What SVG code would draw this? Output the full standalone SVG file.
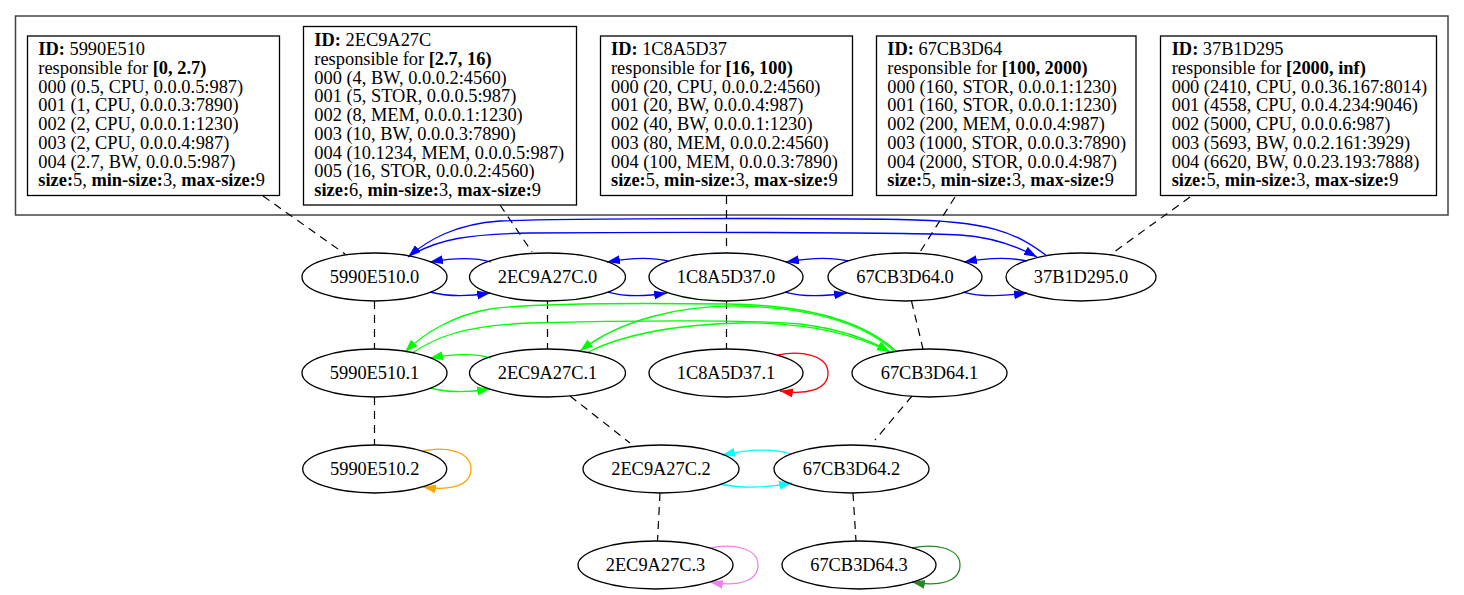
<svg xmlns="http://www.w3.org/2000/svg" width="1464" height="595" viewBox="0 0 1464 595">
<style>
text{font-family:"Liberation Serif","Times New Roman",serif;font-size:18.4px;fill:#000}
.lbl{text-anchor:middle}
.b{font-weight:bold}
.node ellipse{fill:none;stroke:#000;stroke-width:1.3}
.box rect{fill:#fff;stroke:#000;stroke-width:1.3}
.cluster{fill:none;stroke:#444;stroke-width:1.5}
.dash{fill:none;stroke:#000;stroke-width:1.2;stroke-dasharray:8,6}
.e{fill:none;stroke-width:1.3}
.blue{stroke:#0000ff}.green{stroke:#00ff00}.red{stroke:#ff0000}.orange{stroke:#ffa500}.cyan{stroke:#00ffff}.violet{stroke:#ee82ee}.fgreen{stroke:#228b22}
</style>
<defs>
<marker id="aBlue" markerUnits="userSpaceOnUse" markerWidth="14" markerHeight="10" refX="13" refY="4.5" orient="auto" viewBox="0 0 14 10"><path d="M0,0L13,4.5L0,9z" fill="#0000ff"/></marker>
<marker id="aGreen" markerUnits="userSpaceOnUse" markerWidth="14" markerHeight="10" refX="13" refY="4.5" orient="auto" viewBox="0 0 14 10"><path d="M0,0L13,4.5L0,9z" fill="#00ff00"/></marker>
<marker id="aRed" markerUnits="userSpaceOnUse" markerWidth="14" markerHeight="10" refX="13" refY="4.5" orient="auto" viewBox="0 0 14 10"><path d="M0,0L13,4.5L0,9z" fill="#ff0000"/></marker>
<marker id="aOrange" markerUnits="userSpaceOnUse" markerWidth="14" markerHeight="10" refX="13" refY="4.5" orient="auto" viewBox="0 0 14 10"><path d="M0,0L13,4.5L0,9z" fill="#ffa500"/></marker>
<marker id="aCyan" markerUnits="userSpaceOnUse" markerWidth="14" markerHeight="10" refX="13" refY="4.5" orient="auto" viewBox="0 0 14 10"><path d="M0,0L13,4.5L0,9z" fill="#00ffff"/></marker>
<marker id="aViolet" markerUnits="userSpaceOnUse" markerWidth="14" markerHeight="10" refX="13" refY="4.5" orient="auto" viewBox="0 0 14 10"><path d="M0,0L13,4.5L0,9z" fill="#ee82ee"/></marker>
<marker id="aFgreen" markerUnits="userSpaceOnUse" markerWidth="14" markerHeight="10" refX="13" refY="4.5" orient="auto" viewBox="0 0 14 10"><path d="M0,0L13,4.5L0,9z" fill="#228b22"/></marker>
</defs>
<rect x="0" y="0" width="1464" height="595" fill="#fff"/>
<rect class="cluster" x="15.5" y="16" width="1432.5" height="199"/>

<g id="connectors">
<!-- dashed links -->
<path class="dash" d="M263,196L345,254"/>
<path class="dash" d="M500,205L532,252"/>
<path class="dash" d="M726.5,196V253"/>
<path class="dash" d="M955,197L920,252"/>
<path class="dash" d="M1190,197L1110,255"/>
<path class="dash" d="M374.5,301V349"/>
<path class="dash" d="M547.5,301V349"/>
<path class="dash" d="M726.5,301V349"/>
<path class="dash" d="M911.5,301L923,349"/>
<path class="dash" d="M374.5,397V445"/>
<path class="dash" d="M570,396L630,443"/>
<path class="dash" d="M912,396L875,440"/>
<path class="dash" d="M660,493L657.5,541"/>
<path class="dash" d="M853,493L856,541"/>
<!-- blue row 0 -->
<path class="e blue" marker-end="url(#aBlue)" d="M491,262C478,258 458,257 430,262"/>
<path class="e blue" marker-end="url(#aBlue)" d="M430,292C445,296 465,297 490,293"/>
<path class="e blue" marker-end="url(#aBlue)" d="M668,261C655,258 635,257 607,262"/>
<path class="e blue" marker-end="url(#aBlue)" d="M608,292C622,296 642,297 667,293"/>
<path class="e blue" marker-end="url(#aBlue)" d="M848,261C835,258 815,257 786,262"/>
<path class="e blue" marker-end="url(#aBlue)" d="M785,292C799,296 820,297 847,293"/>
<path class="e blue" marker-end="url(#aBlue)" d="M1027,261C1013,258 992,257 964,262"/>
<path class="e blue" marker-end="url(#aBlue)" d="M963,292C977,296 998,297 1027,293"/>
<path class="e blue" marker-end="url(#aBlue)" d="M1047,256C1015,232 990,221 900,219.5C800,218 560,218 500,221C455,224 428,240 408,257"/>
<path class="e blue" marker-end="url(#aBlue)" d="M415,253C440,240 465,234 530,233C650,232 900,232 960,235C990,237 1015,245 1037,257"/>
<!-- green row 1 -->
<path class="e green" marker-end="url(#aGreen)" d="M491,358C478,354 458,353 430,358"/>
<path class="e green" marker-end="url(#aGreen)" d="M430,388C445,392 465,393 490,389"/>
<path class="e green" marker-end="url(#aGreen)" d="M897,352C865,322 810,305 727,304C640,303 530,303 490,309C455,315 425,332 405,352"/>
<path class="e green" marker-end="url(#aGreen)" d="M895,352C865,324 815,308 740,306C680,305 620,320 580,351"/>
<path class="e green" marker-end="url(#aGreen)" d="M412,353C435,338 460,326 530,323C640,320 760,320 800,324C840,329 870,340 890,352"/>
<path class="e green" marker-end="url(#aGreen)" d="M588,352C620,336 665,325 740,323C800,322 850,332 890,352"/>
<!-- self loops -->
<path class="e red" marker-end="url(#aRed)" d="M778,355C800,350 828,355 828,373C828,390 806,395 780,391"/>
<path class="e orange" marker-end="url(#aOrange)" d="M423,451C445,446 471,451 471,469C471,486 450,491 423,487"/>
<path class="e violet" marker-end="url(#aViolet)" d="M710,548C733,543 758,548 758,565C758,582 737,587 710,582"/>
<path class="e fgreen" marker-end="url(#aFgreen)" d="M912,548C935,543 960,548 960,565C960,582 939,587 912,582"/>
<!-- cyan row 2 -->
<path class="e cyan" marker-end="url(#aCyan)" d="M792,454C775,449 750,449 722,455"/>
<path class="e cyan" marker-end="url(#aCyan)" d="M720,484C738,488 765,488 792,483"/>
</g>

<g id="box-5990E510" class="box">
<rect x="27.5" y="36" width="252" height="159.5"/>
<text x="38.3" y="55"><tspan class="b">ID:</tspan> 5990E510</text>
<text x="38.3" y="73.8">responsible for <tspan class="b">[0, 2.7)</tspan></text>
<text x="38.3" y="92.5">000 (0.5, CPU, 0.0.0.5:987)</text>
<text x="38.3" y="111.3">001 (1, CPU, 0.0.0.3:7890)</text>
<text x="38.3" y="130">002 (2, CPU, 0.0.0.1:1230)</text>
<text x="38.3" y="148.8">003 (2, CPU, 0.0.0.4:987)</text>
<text x="38.3" y="167.6">004 (2.7, BW, 0.0.0.5:987)</text>
<text x="38.3" y="186.3"><tspan class="b">size:</tspan>5, <tspan class="b">min-size:</tspan>3, <tspan class="b">max-size:</tspan>9</text>
</g>
<g id="box-2EC9A27C" class="box">
<rect x="303.5" y="26.5" width="273" height="178.5"/>
<text x="314.3" y="46"><tspan class="b">ID:</tspan> 2EC9A27C</text>
<text x="314.3" y="64.8">responsible for <tspan class="b">[2.7, 16)</tspan></text>
<text x="314.3" y="83.5">000 (4, BW, 0.0.0.2:4560)</text>
<text x="314.3" y="102.3">001 (5, STOR, 0.0.0.5:987)</text>
<text x="314.3" y="121">002 (8, MEM, 0.0.0.1:1230)</text>
<text x="314.3" y="139.8">003 (10, BW, 0.0.0.3:7890)</text>
<text x="314.3" y="158.6">004 (10.1234, MEM, 0.0.0.5:987)</text>
<text x="314.3" y="177.3">005 (16, STOR, 0.0.0.2:4560)</text>
<text x="314.3" y="196.1"><tspan class="b">size:</tspan>6, <tspan class="b">min-size:</tspan>3, <tspan class="b">max-size:</tspan>9</text>
</g>
<g id="box-1C8A5D37" class="box">
<rect x="600.5" y="36" width="252" height="159.5"/>
<text x="611" y="55"><tspan class="b">ID:</tspan> 1C8A5D37</text>
<text x="611" y="73.8">responsible for <tspan class="b">[16, 100)</tspan></text>
<text x="611" y="92.5">000 (20, CPU, 0.0.0.2:4560)</text>
<text x="611" y="111.3">001 (20, BW, 0.0.0.4:987)</text>
<text x="611" y="130">002 (40, BW, 0.0.0.1:1230)</text>
<text x="611" y="148.8">003 (80, MEM, 0.0.0.2:4560)</text>
<text x="611" y="167.6">004 (100, MEM, 0.0.0.3:7890)</text>
<text x="611" y="186.3"><tspan class="b">size:</tspan>5, <tspan class="b">min-size:</tspan>3, <tspan class="b">max-size:</tspan>9</text>
</g>
<g id="box-67CB3D64" class="box">
<rect x="876.5" y="36" width="259.5" height="159.5"/>
<text x="887.3" y="55"><tspan class="b">ID:</tspan> 67CB3D64</text>
<text x="887.3" y="73.8">responsible for <tspan class="b">[100, 2000)</tspan></text>
<text x="887.3" y="92.5">000 (160, STOR, 0.0.0.1:1230)</text>
<text x="887.3" y="111.3">001 (160, STOR, 0.0.0.1:1230)</text>
<text x="887.3" y="130">002 (200, MEM, 0.0.0.4:987)</text>
<text x="887.3" y="148.8">003 (1000, STOR, 0.0.0.3:7890)</text>
<text x="887.3" y="167.6">004 (2000, STOR, 0.0.0.4:987)</text>
<text x="887.3" y="186.3"><tspan class="b">size:</tspan>5, <tspan class="b">min-size:</tspan>3, <tspan class="b">max-size:</tspan>9</text>
</g>
<g id="box-37B1D295" class="box">
<rect x="1160.5" y="36" width="276" height="159.5"/>
<text x="1171.7" y="55"><tspan class="b">ID:</tspan> 37B1D295</text>
<text x="1171.7" y="73.8">responsible for <tspan class="b">[2000, inf)</tspan></text>
<text x="1171.7" y="92.5">000 (2410, CPU, 0.0.36.167:8014)</text>
<text x="1171.7" y="111.3">001 (4558, CPU, 0.0.4.234:9046)</text>
<text x="1171.7" y="130">002 (5000, CPU, 0.0.0.6:987)</text>
<text x="1171.7" y="148.8">003 (5693, BW, 0.0.2.161:3929)</text>
<text x="1171.7" y="167.6">004 (6620, BW, 0.0.23.193:7888)</text>
<text x="1171.7" y="186.3"><tspan class="b">size:</tspan>5, <tspan class="b">min-size:</tspan>3, <tspan class="b">max-size:</tspan>9</text>
</g>

<g id="n-5990E510-0" class="node"><ellipse cx="374.5" cy="277" rx="72.5" ry="24"/><text class="lbl" x="374.5" y="283.3">5990E510.0</text></g>
<g id="n-2EC9A27C-0" class="node"><ellipse cx="547.5" cy="277" rx="78" ry="24"/><text class="lbl" x="547.5" y="283.3">2EC9A27C.0</text></g>
<g id="n-1C8A5D37-0" class="node"><ellipse cx="726" cy="277" rx="77" ry="24"/><text class="lbl" x="726" y="283.3">1C8A5D37.0</text></g>
<g id="n-67CB3D64-0" class="node"><ellipse cx="905" cy="277" rx="77" ry="24"/><text class="lbl" x="905" y="283.3">67CB3D64.0</text></g>
<g id="n-37B1D295-0" class="node"><ellipse cx="1081" cy="277" rx="75" ry="24"/><text class="lbl" x="1081" y="283.3">37B1D295.0</text></g>
<g id="n-5990E510-1" class="node"><ellipse cx="374.5" cy="373" rx="72.5" ry="24"/><text class="lbl" x="374.5" y="379.3">5990E510.1</text></g>
<g id="n-2EC9A27C-1" class="node"><ellipse cx="547.5" cy="373" rx="78" ry="24"/><text class="lbl" x="547.5" y="379.3">2EC9A27C.1</text></g>
<g id="n-1C8A5D37-1" class="node"><ellipse cx="726" cy="373" rx="77" ry="24"/><text class="lbl" x="726" y="379.3">1C8A5D37.1</text></g>
<g id="n-67CB3D64-1" class="node"><ellipse cx="929.5" cy="373" rx="77.5" ry="24"/><text class="lbl" x="929.5" y="379.3">67CB3D64.1</text></g>
<g id="n-5990E510-2" class="node"><ellipse cx="374.7" cy="469" rx="72" ry="24"/><text class="lbl" x="374.7" y="475.3">5990E510.2</text></g>
<g id="n-2EC9A27C-2" class="node"><ellipse cx="661" cy="469" rx="78" ry="24"/><text class="lbl" x="661" y="475.3">2EC9A27C.2</text></g>
<g id="n-67CB3D64-2" class="node"><ellipse cx="851.5" cy="469" rx="77.5" ry="24"/><text class="lbl" x="851.5" y="475.3">67CB3D64.2</text></g>
<g id="n-2EC9A27C-3" class="node"><ellipse cx="655.5" cy="565" rx="77.5" ry="24"/><text class="lbl" x="655.5" y="571.3">2EC9A27C.3</text></g>
<g id="n-67CB3D64-3" class="node"><ellipse cx="859" cy="565" rx="77" ry="24"/><text class="lbl" x="859" y="571.3">67CB3D64.3</text></g>
</svg>
